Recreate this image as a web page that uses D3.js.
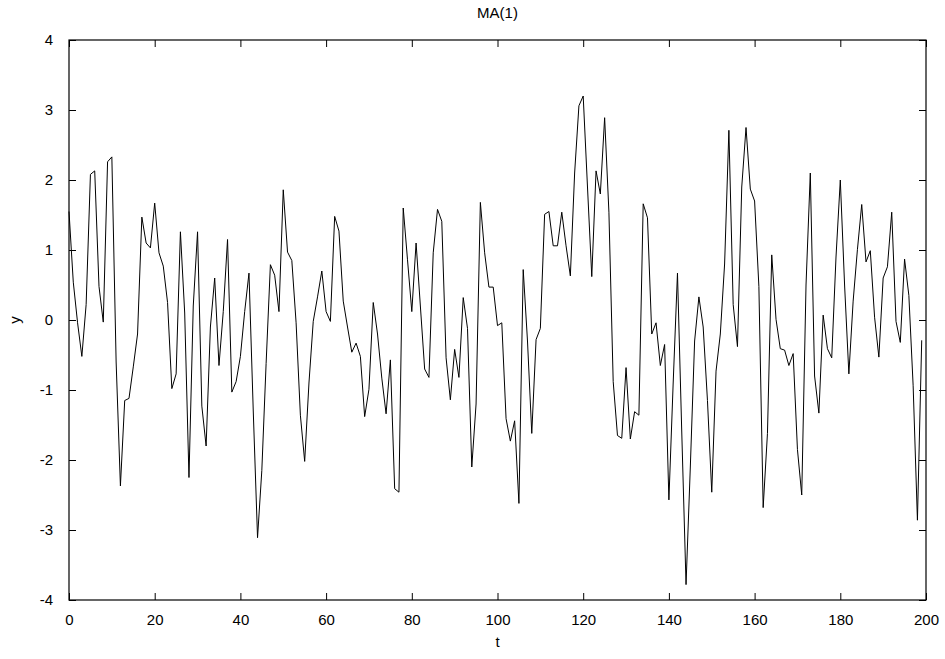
<!DOCTYPE html>
<html>
<head>
<meta charset="utf-8">
<script src="https://cdn.jsdelivr.net/npm/d3@7"></script>
<style>
  body { margin: 0; background: #fff; }
  svg text { font-family: "Liberation Sans", Arial, sans-serif; fill: #000; }
</style>
</head>
<body>
<svg id="chart" width="945" height="659"></svg>
<script>
const title = "MA(1)";
const xLabel = "t";
const yLabel = "y";
const xTicks = [0, 20, 40, 60, 80, 100, 120, 140, 160, 180, 200];
const yTicks = [-4, -3, -2, -1, 0, 1, 2, 3, 4];

// values, t = 0 .. 199
const yValues = [
    1.55, 0.54, -0.04, -0.52, 0.22, 2.08, 2.13, 0.48, -0.03, 2.26,
    2.33, -0.6, -2.37, -1.15, -1.12, -0.67, -0.2, 1.47, 1.1, 1.03,
    1.67, 0.96, 0.77, 0.25, -0.98, -0.77, 1.26, 0.1, -2.25, 0.2,
    1.26, -1.23, -1.8, -0.1, 0.6, -0.65, 0.12, 1.15, -1.03, -0.88,
    -0.52, 0.12, 0.67, -1.3, -3.11, -2.15, -0.62, 0.79, 0.64, 0.12,
    1.86, 0.97, 0.85, -0.04, -1.36, -2.02, -0.9, -0.02, 0.33, 0.7,
    0.12, -0.02, 1.48, 1.27, 0.27, -0.1, -0.46, -0.33, -0.52, -1.38,
    -0.99, 0.25, -0.2, -0.83, -1.34, -0.57, -2.41, -2.46, 1.6, 0.86,
    0.12, 1.1, 0.2, -0.7, -0.82, 0.96, 1.58, 1.41, -0.54, -1.14,
    -0.42, -0.82, 0.32, -0.12, -2.1, -1.2, 1.68, 0.96, 0.47, 0.47,
    -0.08, -0.04, -1.41, -1.73, -1.44, -2.62, 0.72, -0.3, -1.62, -0.28,
    -0.12, 1.51, 1.55, 1.06, 1.06, 1.54, 1.06, 0.63, 2.1, 3.06,
    3.2, 1.9, 0.62, 2.13, 1.8, 2.89, 1.54, -0.88, -1.65, -1.69,
    -0.68, -1.7, -1.31, -1.36, 1.66, 1.46, -0.2, -0.04, -0.65, -0.35,
    -2.57, -0.9, 0.67, -1.6, -3.78, -2.1, -0.3, 0.33, -0.1, -1.15,
    -2.46, -0.73, -0.2, 0.8, 2.71, 0.22, -0.38, 1.9, 2.75, 1.87,
    1.7, 0.48, -2.68, -1.62, 0.93, 0.01, -0.41, -0.43, -0.65, -0.48,
    -1.85, -2.5, 0.5, 2.1, -0.8, -1.33, 0.07, -0.41, -0.54, 0.9,
    2.0, 0.5, -0.77, 0.27, 1.01, 1.65, 0.83, 0.99, 0.04, -0.53,
    0.6, 0.76, 1.54, -0.02, -0.32, 0.87, 0.35, -0.94, -2.86, -0.29
];

const margin = {top: 40, right: 19, bottom: 59, left: 69};
const width = 945, height = 659;
const tickLen = 7;

const svg = d3.select("#chart");

const x = d3.scaleLinear().domain([0, 200]).range([margin.left, width - margin.right]);
const y = d3.scaleLinear().domain([-4, 4]).range([height - margin.bottom, margin.top]);

const data = yValues.map((v, i) => ({t: i, v: v}));

// series
svg.append("path")
    .datum(data)
    .attr("fill", "none")
    .attr("stroke", "#000")
    .attr("stroke-width", 1)
    .attr("d", d3.line().x(d => x(d.t)).y(d => y(d.v)));

// axes: ticks inward, mirrored on all four sides
const plain = d => String(d);   // plain hyphen minus, like the original
const axisStyle = g => {
    g.select(".domain").remove();
    g.selectAll(".tick line").attr("stroke", "#000");
    g.selectAll(".tick text").attr("font-size", 15);
};

svg.append("g")
    .attr("transform", `translate(0,${height - margin.bottom})`)
    .call(d3.axisBottom(x).tickValues(xTicks).tickFormat(plain).tickSizeInner(-tickLen).tickPadding(tickLen + 7))
    .call(axisStyle);

svg.append("g")
    .attr("transform", `translate(0,${margin.top})`)
    .call(d3.axisTop(x).tickValues(xTicks).tickSizeInner(-tickLen).tickFormat(""))
    .call(axisStyle);

svg.append("g")
    .attr("transform", `translate(${margin.left},0)`)
    .call(d3.axisLeft(y).tickValues(yTicks).tickFormat(plain).tickSizeInner(-tickLen).tickPadding(tickLen + 9))
    .call(axisStyle);

svg.append("g")
    .attr("transform", `translate(${width - margin.right},0)`)
    .call(d3.axisRight(y).tickValues(yTicks).tickSizeInner(-tickLen).tickFormat(""))
    .call(axisStyle);

// frame
svg.append("rect")
    .attr("x", margin.left)
    .attr("y", margin.top)
    .attr("width", width - margin.left - margin.right)
    .attr("height", height - margin.top - margin.bottom)
    .attr("fill", "none")
    .attr("stroke", "#000")
    .attr("stroke-width", 1.2);

// labels
svg.append("text")
    .attr("x", (margin.left + width - margin.right) / 2)
    .attr("y", 18)
    .attr("text-anchor", "middle")
    .attr("font-size", 15)
    .text(title);

svg.append("text")
    .attr("x", (margin.left + width - margin.right) / 2)
    .attr("y", 647)
    .attr("text-anchor", "middle")
    .attr("font-size", 15)
    .text(xLabel);

svg.append("text")
    .attr("transform", `translate(20,${(margin.top + height - margin.bottom) / 2}) rotate(-90)`)
    .attr("text-anchor", "middle")
    .attr("font-size", 15)
    .text(yLabel);
</script>
</body>
</html>
